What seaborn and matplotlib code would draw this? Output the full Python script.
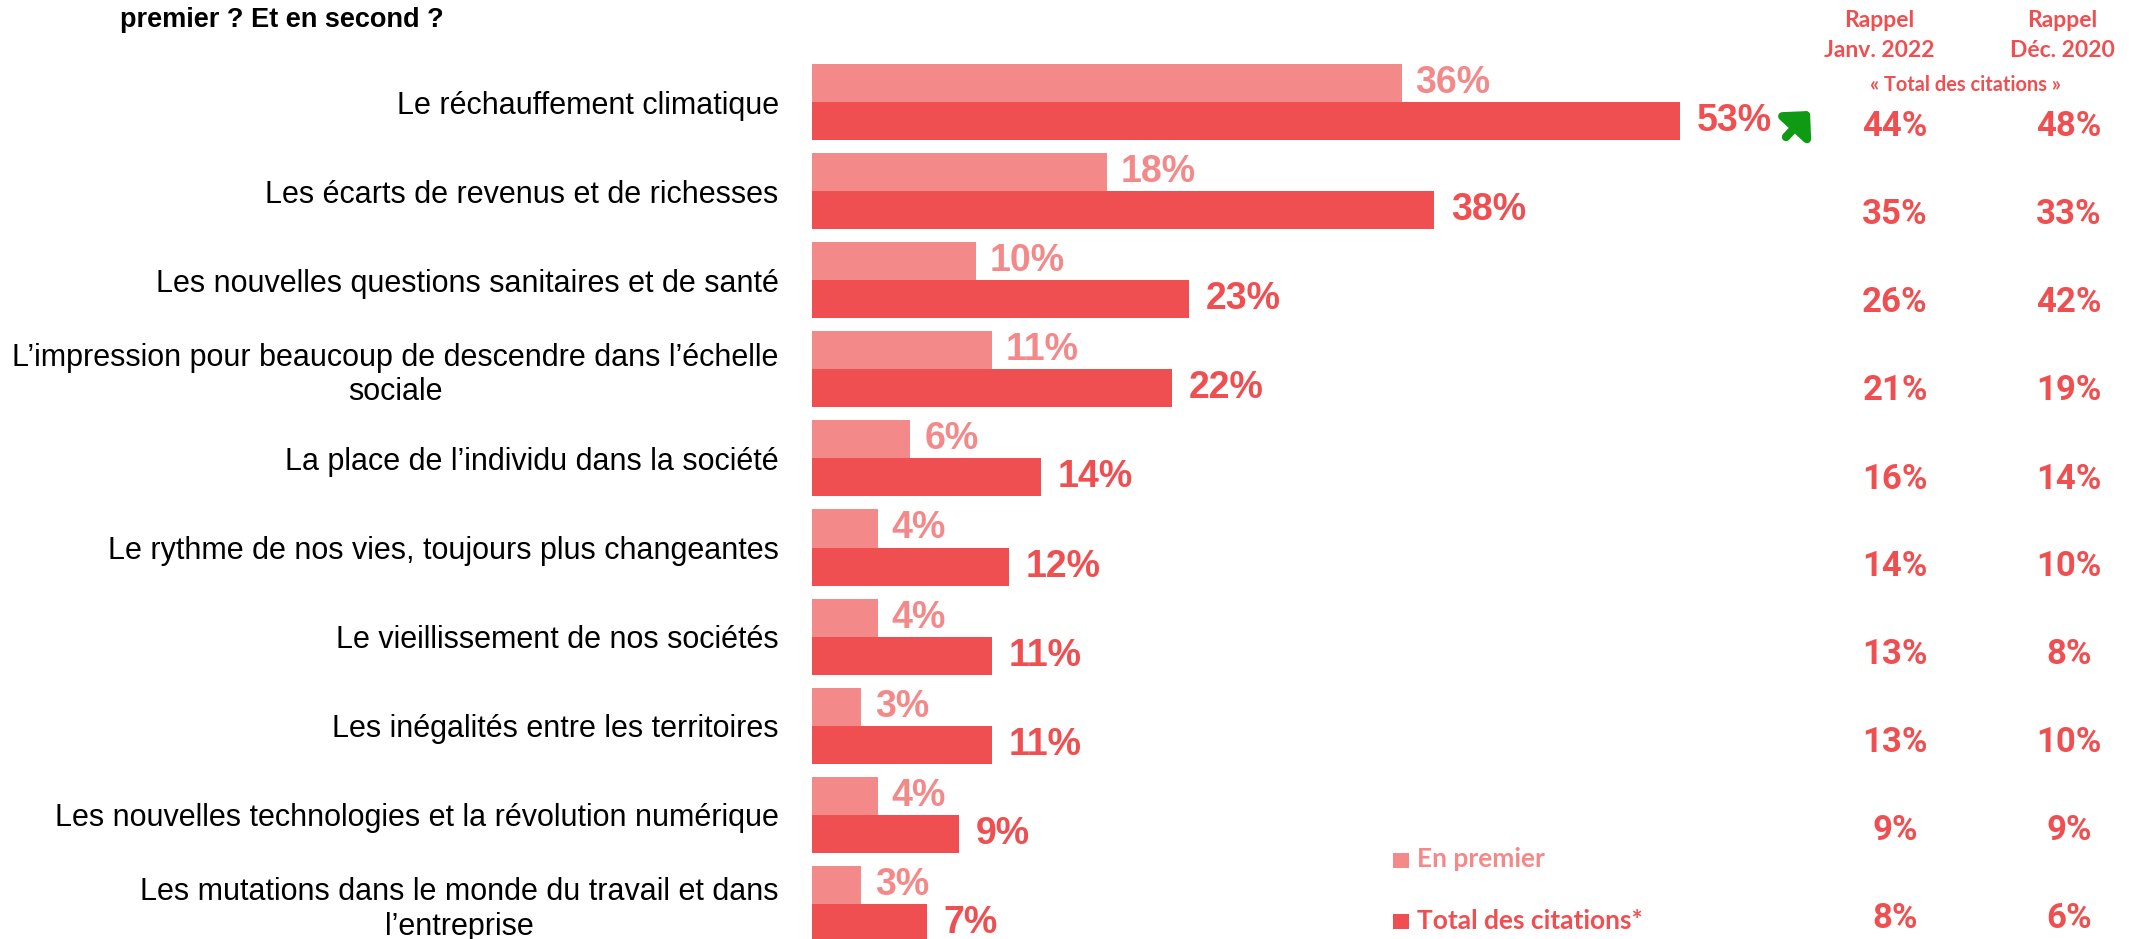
import numpy as np
import pandas as pd
import matplotlib
matplotlib.use("Agg")
import matplotlib.pyplot as plt
from matplotlib.patches import Rectangle
import seaborn as sns

# ---------------- data ----------------
categories = [
    "Le réchauffement climatique",
    "Les écarts de revenus et de richesses",
    "Les nouvelles questions sanitaires et de santé",
    "L\u2019impression pour beaucoup de descendre dans l\u2019échelle\nsociale",
    "La place de l\u2019individu dans la société",
    "Le rythme de nos vies, toujours plus changeantes",
    "Le vieillissement de nos sociétés",
    "Les inégalités entre les territoires",
    "Les nouvelles technologies et la révolution numérique",
    "Les mutations dans le monde du travail et dans\nl\u2019entreprise",
]
en_premier = [36, 18, 10, 11, 6, 4, 4, 3, 4, 3]
total_citations = [53, 38, 23, 22, 14, 12, 11, 11, 9, 7]
rappel_janv_2022 = [44, 35, 26, 21, 16, 14, 13, 13, 9, 8]
rappel_dec_2020 = [48, 33, 42, 19, 14, 10, 8, 10, 9, 6]
series_names = ["En premier", "Total des citations*"]

LIGHT = "#F4898A"
DARK = "#F04F51"
GREEN = "#0E9A12"

df = pd.DataFrame({
    "cat": categories * 2,
    "val": en_premier + total_citations,
    "series": [series_names[0]] * len(categories) + [series_names[1]] * len(categories),
})

# ---------------- figure ----------------
sns.set_theme(style="white")
plt.rcParams["font.family"] = ["Liberation Sans", "DejaVu Sans"]

W, H = 2129, 939
fig = plt.figure(figsize=(W / 100, H / 100), dpi=100)
left_px = 812
ax = fig.add_axes([left_px / W, 0, (W - left_px) / W, 1])

sns.barplot(data=df, y="cat", x="val", hue="series", orient="h",
            palette=[LIGHT, DARK], width=0.855, dodge=True, ax=ax,
            legend=False, saturation=1, errorbar=None, linewidth=0)

px_per_unit = 16.38
ax.set_xlim(0, (W - left_px) / px_per_unit)
pitch = 89.1
c0 = 102
ax.set_ylim((H - c0) / pitch, -c0 / pitch)

for s in ax.spines.values():
    s.set_visible(False)
ax.set_xticks([])
ax.set_xlabel("")
ax.set_ylabel("")
ax.tick_params(axis="y", length=0, pad=24)
for lab in ax.get_yticklabels():
    lab.set_fontsize(22)
    lab.set_multialignment("center")
    lab.set_color("black")

# value labels
conts = ax.containers
ax.bar_label(conts[0], labels=[f"{v}%" for v in en_premier], padding=10,
             color=LIGHT, fontsize=27, fontweight="bold")
ax.bar_label(conts[1], labels=[f"{v}%" for v in total_citations], padding=12,
             color=DARK, fontsize=27, fontweight="bold")

def ftext(xpx, ypx, s, **kw):
    fig.text(xpx / W, 1 - ypx / H, s, **kw)

# right columns
roboto = ["Roboto", "Liberation Sans", "DejaVu Sans"]
row_y0, row_pitch = 127, 88.0
for i in range(len(categories)):
    ypx = row_y0 + i * row_pitch
    ftext(1895, ypx, f"{rappel_janv_2022[i]}%", ha="center", va="center",
          fontsize=25, fontweight="bold", color=DARK, family=roboto)
    ftext(2069, ypx, f"{rappel_dec_2020[i]}%", ha="center", va="center",
          fontsize=25, fontweight="bold", color=DARK, family=roboto)

calib = ["Lato", "DejaVu Sans"]
ftext(1879, 27, "Rappel", ha="center", va="baseline", fontsize=16.5,
      fontweight="bold", color=DARK, family=calib)
ftext(1879, 57, "Janv. 2022", ha="center", va="baseline", fontsize=16.5,
      fontweight="bold", color=DARK, family=calib)
ftext(2062, 27, "Rappel", ha="center", va="baseline", fontsize=16.5,
      fontweight="bold", color=DARK, family=calib)
ftext(2062, 57, "Déc. 2020", ha="center", va="baseline", fontsize=16.5,
      fontweight="bold", color=DARK, family=calib)
ftext(1966, 91, "\u00ab Total des citations \u00bb", ha="center", va="baseline",
      fontsize=14.4, fontweight="bold", color=DARK, family=calib)

# title (second line visible)
ftext(120, 20, "premier ? Et en second ?", ha="left", va="center",
      fontsize=19.5, fontweight="bold", color="black")

# green arrow
ax.annotate("", xy=(1810, H - 111), xytext=(1786, H - 137),
            xycoords="figure pixels", textcoords="figure pixels",
            arrowprops=dict(arrowstyle="-|>,head_width=0.55,head_length=0.55",
                            lw=6, color=GREEN, mutation_scale=22,
                            shrinkA=0, shrinkB=0))

# legend
for (ybase, ysq, name, col) in [(867, 853, series_names[0], LIGHT),
                                (929, 914, series_names[1], DARK)]:
    fig.add_artist(Rectangle((1393 / W, 1 - (ysq + 15) / H), 16 / W, 15 / H,
                             transform=fig.transFigure, color=col, lw=0))
    ftext(1417, ybase, name, ha="left", va="baseline", fontsize=19,
          fontweight="bold", color=col, family=calib)

fig.savefig("out.png", dpi=100)
